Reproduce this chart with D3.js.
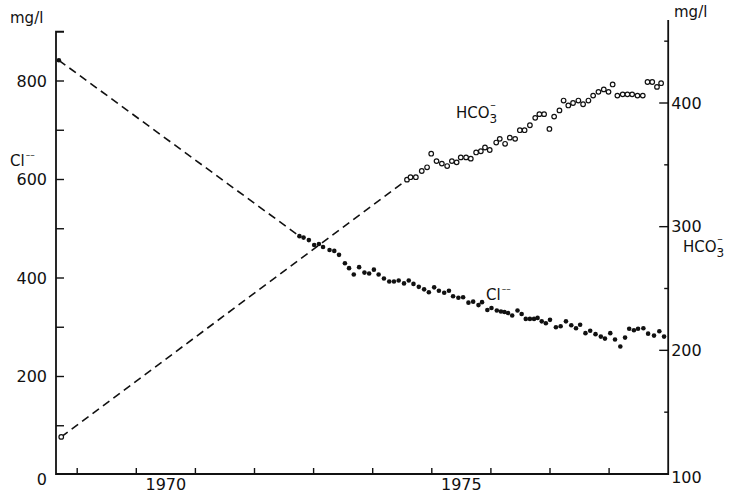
<!DOCTYPE html>
<html>
<head>
<meta charset="utf-8">
<script src="https://cdn.jsdelivr.net/npm/d3@7"></script>
<style>
  body { margin: 0; background: #fff; }
  svg { display: block; }
  text { font-family: 'DejaVu Sans', sans-serif; fill: #111; }
  .tick-label { font-size: 16px; }
  .unit { font-size: 15px; }
  .series-label { font-size: 15px; }
</style>
</head>
<body>
<svg id="chart"></svg>
<script>
// chloride, mg/l (first point is the 1968 value, joined by a dashed line)
const clYear = [1968.69, 1972.76, 1972.83, 1972.92, 1973.01, 1973.09, 1973.16, 1973.27, 1973.35, 1973.43, 1973.53,
  1973.60, 1973.68, 1973.77, 1973.86, 1973.94, 1974.02, 1974.10, 1974.19, 1974.28, 1974.36,
  1974.44, 1974.53, 1974.61, 1974.69, 1974.78, 1974.87, 1974.95, 1975.04, 1975.12, 1975.21,
  1975.29, 1975.36, 1975.45, 1975.53, 1975.62, 1975.70, 1975.79, 1975.85, 1975.94, 1976.01,
  1976.10, 1976.17, 1976.23, 1976.29, 1976.36, 1976.45, 1976.52, 1976.59, 1976.66, 1976.73,
  1976.79, 1976.86, 1976.93, 1977.00, 1977.10, 1977.18, 1977.27, 1977.36, 1977.44, 1977.51,
  1977.60, 1977.68, 1977.77, 1977.86, 1977.93, 1978.02, 1978.10, 1978.19, 1978.27, 1978.34,
  1978.42, 1978.49, 1978.58, 1978.66, 1978.76, 1978.85, 1978.93];
const clValue = [842, 485, 482, 477, 467, 469, 463, 457, 455, 447, 430,
  420, 407, 422, 411, 409, 417, 407, 399, 393, 393,
  395, 389, 395, 388, 382, 377, 371, 381, 374, 370,
  374, 363, 360, 361, 350, 352, 345, 351, 335, 339,
  334, 332, 331, 329, 324, 334, 327, 317, 317, 317,
  319, 312, 308, 315, 300, 302, 312, 304, 298, 305,
  288, 293, 286, 281, 277, 288, 275, 261, 279, 297,
  294, 297, 298, 287, 283, 292, 281];

// bicarbonate, mg/l (right axis)
const hco3Year = [1968.73, 1974.58, 1974.64, 1974.73, 1974.83, 1974.92, 1974.99, 1975.08, 1975.17, 1975.26, 1975.34,
  1975.42, 1975.49, 1975.58, 1975.66, 1975.75, 1975.83, 1975.90, 1975.98, 1976.09, 1976.15,
  1976.24, 1976.32, 1976.41, 1976.49, 1976.57, 1976.66, 1976.75, 1976.82, 1976.90, 1976.99,
  1977.07, 1977.16, 1977.23, 1977.31, 1977.39, 1977.48, 1977.56, 1977.65, 1977.73, 1977.82,
  1977.91, 1977.99, 1978.06, 1978.14, 1978.23, 1978.31, 1978.39, 1978.48, 1978.57, 1978.65,
  1978.73, 1978.81, 1978.88];
const hco3Value = [130, 338, 340, 340, 345, 348, 359, 353, 351, 349, 353,
  352, 356, 356, 355, 360, 361, 364, 362, 368, 371,
  367, 372, 371, 378, 378, 382, 388, 391, 391, 379,
  389, 394, 402, 398, 400, 402, 399, 402, 406, 409,
  411, 409, 415, 406, 407, 407, 407, 406, 406, 417,
  417, 413, 416];

// axis ticks and labels
const yearTicks = [1969, 1970, 1971, 1972, 1973, 1974, 1975, 1976, 1977, 1978];
const yearLabels = [1970, 1975];
const leftTicks = [100, 200, 300, 400, 500, 600, 700, 800];
const leftLabels = [0, 200, 400, 600, 800];
const rightTicks = [150, 200, 250, 300, 350, 400, 450];
const rightLabels = [100, 200, 300, 400];

const width = 729;
const height = 494;

const svg = d3.select('#chart').attr('width', width).attr('height', height);

const x = d3.scaleLinear().domain([1969, 1979]).range([77.2, 668.2]);
const yLeft = d3.scaleLinear().domain([0, 800]).range([475, 81]);
const yRight = d3.scaleLinear().domain([100, 400]).range([474, 103]);

const axisX0 = 56;
const axisX1 = x(1979);
const baseY = 474;

const g = svg.append('g');

// Frame lines: left (with top bracket), bottom and right axes
g.append('path')
  .attr('d', `M${axisX0 + 8},${yLeft(900)}H${axisX0}V${baseY}H${axisX1}V20`)
  .attr('fill', 'none')
  .attr('stroke', '#111')
  .attr('stroke-width', 1.8);

// Left ticks (inward)
g.selectAll('.lt')
  .data(leftTicks)
  .join('line')
  .attr('x1', axisX0)
  .attr('x2', axisX0 + 8)
  .attr('y1', (d) => yLeft(d))
  .attr('y2', (d) => yLeft(d))
  .attr('stroke', '#111')
  .attr('stroke-width', 1.4);

g.selectAll('.ll')
  .data(leftLabels)
  .join('text')
  .attr('class', 'tick-label')
  .attr('x', axisX0 - 9)
  .attr('y', (d) => (d === 0 ? yLeft(d) + 4 : yLeft(d)))
  .attr('dy', '0.36em')
  .attr('text-anchor', 'end')
  .text((d) => d);

// Right ticks (inward)
g.selectAll('.rt')
  .data(rightTicks)
  .join('line')
  .attr('x1', axisX1)
  .attr('x2', (d) => axisX1 - (d % 100 === 0 ? 9 : 4))
  .attr('y1', (d) => yRight(d))
  .attr('y2', (d) => yRight(d))
  .attr('stroke', '#111')
  .attr('stroke-width', 1.4);

g.selectAll('.rl')
  .data(rightLabels)
  .join('text')
  .attr('class', 'tick-label')
  .attr('x', axisX1 + 3)
  .attr('y', (d) => (d === 100 ? yRight(d) + 3 : yRight(d)))
  .attr('dy', '0.36em')
  .text((d) => d);

// Bottom ticks at year starts
g.selectAll('.bt')
  .data(yearTicks)
  .join('line')
  .attr('x1', (d) => x(d))
  .attr('x2', (d) => x(d))
  .attr('y1', baseY)
  .attr('y2', baseY - 6)
  .attr('stroke', '#111')
  .attr('stroke-width', 1.4);

g.selectAll('.bl')
  .data(yearLabels)
  .join('text')
  .attr('class', 'tick-label')
  .attr('x', (d) => x(d + 0.5))
  .attr('y', 490)
  .attr('text-anchor', 'middle')
  .text((d) => d);

// Units and axis titles
g.append('text').attr('class', 'unit').attr('x', 10).attr('y', 23).text('mg/l');
g.append('text').attr('class', 'unit').attr('x', 674).attr('y', 17).text('mg/l');

function ionLabel(x0, y0) {
  const t = g.append('text').attr('class', 'series-label').attr('x', x0).attr('y', y0);
  t.append('tspan').text('Cl');
  t.append('tspan').attr('dx', 1).attr('dy', -8).attr('font-size', 9).text('\u2013\u2013');
}

function bicarbLabel(x0, y0) {
  const t = g.append('text').attr('class', 'series-label').attr('x', x0).attr('y', y0);
  t.append('tspan').text('HCO');
  t.append('tspan').attr('dy', 5).attr('font-size', 12).text('3');
  t.append('tspan').attr('dx', -7).attr('dy', -15).attr('font-size', 11).text('\u2013');
}

ionLabel(10, 166);
bicarbLabel(683, 252);

// In-plot series labels
ionLabel(486, 300);
bicarbLabel(456, 118);

// Dashed joins from the 1968 values to the monthly series
const dashed = (years, values, scale) =>
  g.append('line')
    .attr('x1', x(years[0]))
    .attr('y1', scale(values[0]))
    .attr('x2', x(years[1]))
    .attr('y2', scale(values[1]))
    .attr('stroke', '#111')
    .attr('stroke-width', 1.6)
    .attr('stroke-dasharray', '8,5');

dashed(clYear, clValue, yLeft);
dashed(hco3Year, hco3Value, yRight);

// Cl points (filled)
g.selectAll('.cl')
  .data(clYear.map((yr, i) => ({ yr, v: clValue[i] })))
  .join('circle')
  .attr('cx', (d) => x(d.yr))
  .attr('cy', (d) => yLeft(d.v))
  .attr('r', 2.3)
  .attr('fill', '#111');

// HCO3 points (open)
g.selectAll('.hc')
  .data(hco3Year.map((yr, i) => ({ yr, v: hco3Value[i] })))
  .join('circle')
  .attr('cx', (d) => x(d.yr))
  .attr('cy', (d) => yRight(d.v))
  .attr('r', 2.3)
  .attr('fill', '#fff')
  .attr('stroke', '#111')
  .attr('stroke-width', 1.2);
</script>
</body>
</html>
